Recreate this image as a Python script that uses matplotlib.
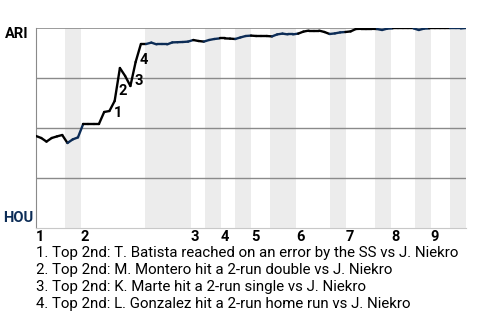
import numpy as np
import matplotlib
matplotlib.use("Agg")
from matplotlib import pyplot as plt
from matplotlib import transforms

plt.rcParams['font.family'] = ['Roboto', 'DejaVu Sans']

# ARI win probability after each plate appearance (event index 0..82)
ari_wp = [0.460, 0.450, 0.432, 0.450, 0.458, 0.465, 0.425, 0.443, 0.453, 0.520,
          0.520, 0.520, 0.520, 0.580, 0.585, 0.635, 0.800, 0.760, 0.710, 0.830,
          0.920, 0.920, 0.927, 0.918, 0.918, 0.918, 0.928, 0.929, 0.930, 0.932,
          0.940, 0.935, 0.932, 0.940, 0.945, 0.948, 0.948, 0.947, 0.945, 0.953,
          0.960, 0.962, 0.960, 0.960, 0.960, 0.958, 0.968, 0.972, 0.968, 0.968,
          0.972, 0.982, 0.987, 0.987, 0.987, 0.980, 0.970, 0.973, 0.978, 0.980,
          0.983, 0.995, 0.996, 0.996, 0.996, 0.995, 0.990, 0.997, 0.998, 0.998,
          0.998, 0.998, 0.998, 0.990, 0.997, 0.998, 0.998, 0.998, 0.998, 0.998,
          0.998, 0.998, 1.000]

# end of each half inning (top1, bot1, top2, ...), in event units
half_ends = [5.5, 8.5, 20.8, 29.5, 32.2, 35.2, 38.0, 41.0, 44.6, 49.6,
             56.0, 59.1, 64.6, 67.7, 72.3, 75.3, 79.0, 82.0]
innings = ["1", "2", "3", "4", "5", "6", "7", "8", "9"]

# key plays: event index where the play ends
key_events = [15, 16, 19, 20]
key_texts = ["1. Top 2nd: T. Batista reached on an error by the SS vs J. Niekro",
             "2. Top 2nd: M. Montero hit a 2-run double vs J. Niekro",
             "3. Top 2nd: K. Marte hit a 2-run single vs J. Niekro",
             "4. Top 2nd: L. Gonzalez hit a 2-run home run vs J. Niekro"]

ari_col = "black"
hou_col = "#0c2c56"

fig = plt.figure(figsize=(4.8, 3.2), dpi=100)
ax = fig.add_axes([36/480, 92/320, 430/480, 200/320])
ax.set_facecolor("none")

starts = [0] + half_ends[:-1]
for i in range(1, len(half_ends), 2):
    ax.axvspan(starts[i], half_ends[i], color="#ececec", lw=0, zorder=0)

for g in [0.25, 0.5, 0.75]:
    ax.axhline(g, color="#8a8a8a", lw=1, zorder=1)
ax.axhline(1.0, color="#8a8a8a", lw=1.2, zorder=1)

x = np.arange(len(ari_wp))
for k in range(len(ari_wp) - 1):
    mid = k + 0.5
    half = int(np.searchsorted(half_ends, mid))
    col = hou_col if half % 2 == 1 else ari_col
    ax.plot(x[k:k+2], ari_wp[k:k+2], color=col, lw=1.7, zorder=3,
            solid_capstyle="round")

for n, k in enumerate(key_events):
    xm = k - 0.5
    ym = (ari_wp[k] + ari_wp[k-1]) / 2
    ax.annotate(str(n + 1), (xm, ym), xytext=(4, -5), textcoords="offset points",
                ha="center", va="center", fontsize=10.5, fontweight="bold", zorder=4)

ax.set_xlim(0, half_ends[-1])
ax.set_ylim(0, 1)
ax.set_xticks([])
ax.set_yticks([])
for s in ["top", "right"]:
    ax.spines[s].set_visible(False)
ax.spines["left"].set_color("#8a8a8a")
ax.spines["bottom"].set_color("#c8c8c8")

trans = transforms.blended_transform_factory(ax.transData, ax.transAxes)
for i, lab in enumerate(innings):
    ax.text(starts[2 * i], -0.012, lab, transform=trans, ha="left", va="top",
            fontsize=10.5, fontweight="bold")

fig.text(5/480, 1 - 34/320, "ARI", ha="left", va="center", fontsize=10.5,
         fontweight="bold", color=ari_col, zorder=5)
fig.text(33/480, 1 - 218/320, "HOU", ha="right", va="center", fontsize=10.5,
         fontweight="bold", color=hou_col, zorder=5)

for i, t in enumerate(key_texts):
    fig.text(36/480, 1 - (253 + 17 * i)/320, t, ha="left", va="center",
             fontsize=10.8)

fig.savefig("out.png", dpi=100)
